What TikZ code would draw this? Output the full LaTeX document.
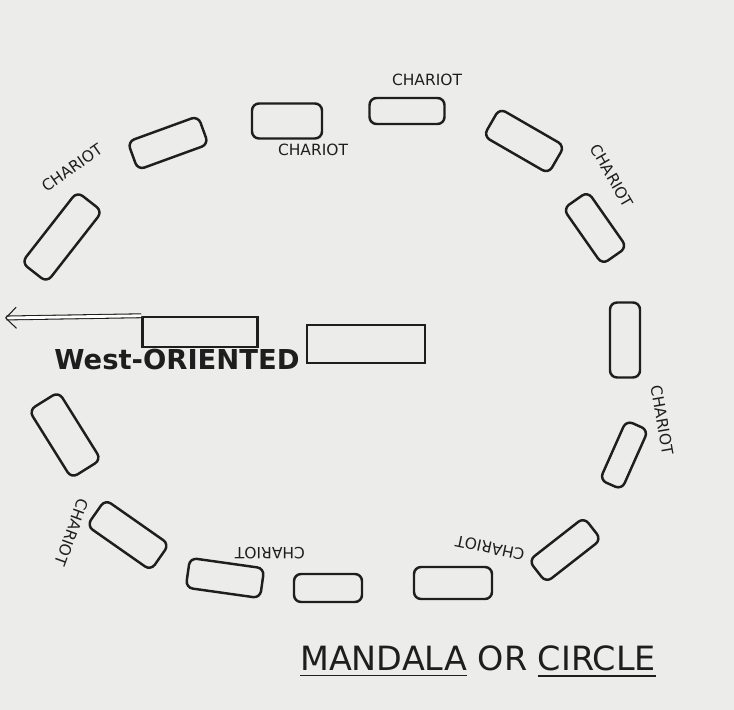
\documentclass[tikz,border=0pt]{standalone}
\usepackage{fontspec}
\setmainfont{DejaVu Sans}
\usetikzlibrary{shapes, arrows.meta, positioning}
\usepackage{xcolor}
\definecolor{PaperGrey}{RGB}{236,236,234}
\definecolor{InkBlack}{RGB}{30,30,30}

\begin{document}
\begin{tikzpicture}[x=0.01cm, y=-0.01cm,
          chariot/.style={rectangle, draw=InkBlack, line width=0.7pt, rounded corners=2pt, inner sep=0pt},
          slab/.style={rectangle, draw=InkBlack, line width=0.7pt, inner sep=0pt},
          label/.style={font=\fontsize{4.4}{5}\selectfont, text=InkBlack},
          arrow/.style={-{Straight Barb[length=3pt]}, double, double distance=0.8pt, InkBlack, line width=0.3pt}
        ]
          \fill[PaperGrey] (0,0) rectangle (734,710);
          \useasboundingbox (0,0) rectangle (734,710);
          % ring of chariots: x/y/width/height/angle
          \foreach \x/\y/\w/\h/\a [count=\i] in {
              168/143/75/30/20, 287/121/70/35/0, 407/111/75/26/0, 524/141/75/32/-30,
              595/228/68/30/-55, 625/340/75/30/90, 624/455/65/24/66, 565/550/70/28/38,
              453/583/78/32/0, 328/588/68/28/0, 225/578/75/30/-8, 128/535/78/32/-35,
              65/435/80/35/-58, 62/237/90/32/52}
            \node (c\i) [chariot, minimum width=\w*0.01cm, minimum height=\h*0.01cm, rotate=\a] at (\x,\y) {};
          % centre
          \node (front) [slab, minimum width=1.15cm, minimum height=0.3cm] at (200,332) {};
          \node (back) [slab, minimum width=1.18cm, minimum height=0.38cm] at (366,344) {};
          \coordinate (west) at (5,318);
          \draw[arrow] (front.north west) -- (west);
          \node (westlabel) [font=\fontsize{7.8}{9}\selectfont\bfseries, text=InkBlack] at (177,360) {West-ORIENTED};
          % labels
          \node (l1) [label] at (427,80) {CHARIOT};
          \node (l2) [label] at (313,150) {CHARIOT};
          \node (l3) [label, rotate=-60] at (612,176) {CHARIOT};
          \node (l4) [label, rotate=-80] at (662,420) {CHARIOT};
          \node (l5) [label, rotate=35] at (72,168) {CHARIOT};
          \node (l6) [label, rotate=-110] at (72,532) {CHARIOT};
          \node (l7) [label, rotate=180] at (270,553) {CHARIOT};
          \node (l8) [label, rotate=168] at (490,548) {CHARIOT};
          \node (title) [font=\fontsize{9.5}{11}\selectfont, text=InkBlack] at (478,662) {\underline{MANDALA} OR \underline{CIRCLE}};
        \end{tikzpicture}
\end{document}
